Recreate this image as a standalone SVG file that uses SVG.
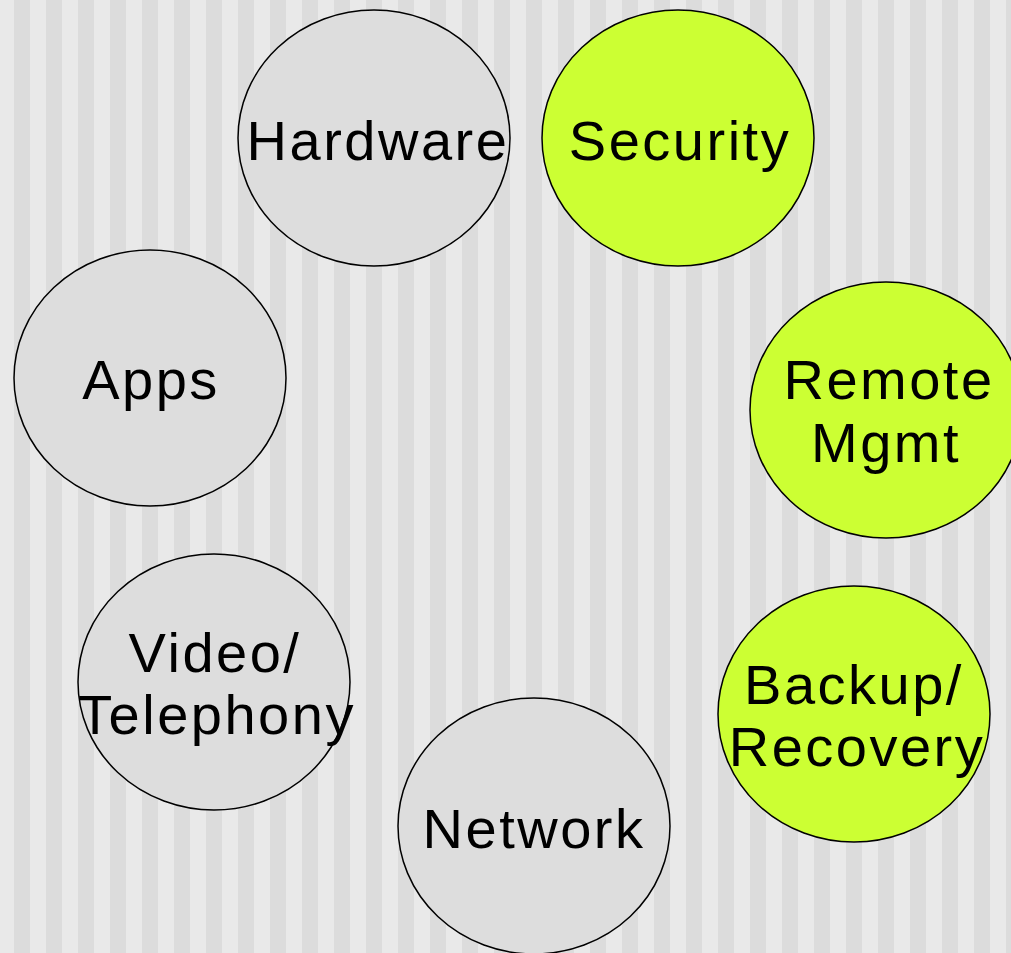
<svg xmlns="http://www.w3.org/2000/svg" width="1011" height="953" viewBox="0 0 1011 953">
<defs>
<pattern id="stripes" x="14" y="0" width="32" height="953" patternUnits="userSpaceOnUse">
<rect x="0" y="0" width="16" height="953" fill="#dcdcdc"/>
<rect x="16" y="0" width="16" height="953" fill="#e9e9e9"/>
</pattern>
</defs>
<style>
.g{fill:#dddddd;stroke:#000;stroke-width:1.5}
.y{fill:#ccff33;stroke:#000;stroke-width:1.5}
text{font-family:"Liberation Sans",Arial,sans-serif;font-size:56px;letter-spacing:2.5px;text-anchor:middle;fill:#000}
</style>
<rect width="1011" height="953" fill="url(#stripes)"/>
<g id="hardware"><ellipse class="g" cx="374" cy="138" rx="136" ry="128"/><text x="378" y="160">Hardware</text></g>
<g id="security"><ellipse class="y" cx="678" cy="138" rx="136" ry="128"/><text x="680" y="160">Security</text></g>
<g id="apps"><ellipse class="g" cx="150" cy="378" rx="136" ry="128"/><text x="151" y="399">Apps</text></g>
<g id="remote"><ellipse class="y" cx="886" cy="410" rx="136" ry="128"/><text x="889" y="399">Remote</text><text x="886" y="462">Mgmt</text></g>
<g id="video"><ellipse class="g" cx="214" cy="682" rx="136" ry="128"/><text x="215" y="672">Video/</text><text x="217" y="734">Telephony</text></g>
<g id="backup"><ellipse class="y" cx="854" cy="714" rx="136" ry="128"/><text x="854" y="704">Backup/</text><text x="857" y="766">Recovery</text></g>
<g id="network"><ellipse class="g" cx="534" cy="826" rx="136" ry="128"/><text x="534" y="848">Network</text></g>
<g id="connectors"/>
</svg>
